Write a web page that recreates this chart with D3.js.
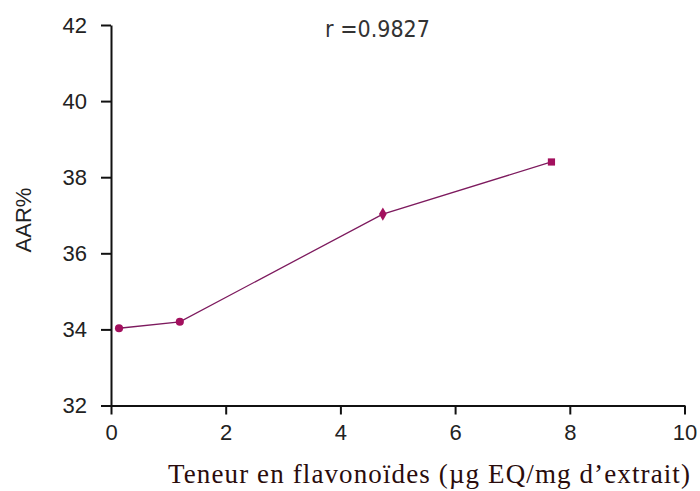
<!DOCTYPE html>
<html>
<head>
<meta charset="utf-8">
<script src="https://cdn.jsdelivr.net/npm/d3@7"></script>
<style>
  html, body { margin: 0; padding: 0; background: #fff; }
  svg { display: block; }
  .tick text { font-family: "Liberation Sans", Arial, sans-serif; font-size: 22px; fill: #222; }
</style>
</head>
<body>
<svg id="chart" width="700" height="491"></svg>
<script>
// Flavonoid content (µg EQ/mg extract) against antiradical activity (AAR%)
const flavonoids = [0.14, 1.20, 4.74, 7.68];
const aar = [34.03, 34.20, 37.03, 38.40];
const markerShapes = ["circle", "circle", "diamond", "square"];
const xTicks = [0, 2, 4, 6, 8, 10];
const yTicks = [32, 34, 36, 38, 40, 42];
const correlationLabel = "r =0.9827";
const xTitle = "Teneur en flavonoïdes (µg EQ/mg d\u2019extrait)";
const yTitle = "AAR%";

const width = 700, height = 491;
const margin = { top: 25, right: 15.5, bottom: 85.5, left: 111 };

const svg = d3.select("#chart");

const x = d3.scaleLinear().domain([0, 10]).range([margin.left, width - margin.right]);
const y = d3.scaleLinear().domain([32, 42]).range([height - margin.bottom, margin.top]);

// Axes: ticks cross the axis lines, Excel style
const xAxis = d3.axisBottom(x).tickValues(xTicks).tickSize(9).tickSizeOuter(0).tickPadding(10);
const yAxis = d3.axisLeft(y).tickValues(yTicks).tickSize(10).tickSizeOuter(0).tickPadding(14);

const gx = svg.append("g")
  .attr("transform", `translate(0,${y(32)})`)
  .call(xAxis);
const gy = svg.append("g")
  .attr("transform", `translate(${x(0)},0)`)
  .call(yAxis);

[gx, gy].forEach(g => {
  g.select(".domain").attr("stroke", "#111").attr("stroke-width", 2);
  g.selectAll(".tick line").attr("stroke", "#111").attr("stroke-width", 2);
});
gx.selectAll(".tick text").attr("dy", "0.71em");

// Data line
const line = d3.line().x((d, i) => x(flavonoids[i])).y(d => y(d));
svg.append("path")
  .datum(aar)
  .attr("fill", "none")
  .attr("stroke", "#7d1a5e")
  .attr("stroke-width", 1.3)
  .attr("d", line);

// Markers
const symbolType = { circle: d3.symbolCircle, diamond: d3.symbolDiamond, square: d3.symbolSquare };
svg.selectAll("path.marker")
  .data(aar)
  .join("path")
  .attr("class", "marker")
  .attr("transform", (d, i) => `translate(${x(flavonoids[i])},${y(d)})`)
  .attr("d", (d, i) => d3.symbol(symbolType[markerShapes[i]], 52)())
  .attr("fill", "#a3105e");

// Correlation coefficient
svg.append("text")
  .attr("x", 377.5)
  .attr("y", 36.5)
  .attr("text-anchor", "middle")
  .attr("font-family", "'DejaVu Sans Condensed', 'DejaVu Sans', sans-serif")
  .attr("font-size", 23)
  .attr("fill", "#333")
  .text(correlationLabel);

// Axis titles
svg.append("text")
  .attr("x", 168)
  .attr("y", 483)
  .attr("text-anchor", "start")
  .attr("textLength", 522)
  .attr("lengthAdjust", "spacing")
  .attr("font-family", "'Liberation Serif', 'Times New Roman', serif")
  .attr("font-size", 27)
  .attr("fill", "#2a0c0c")
  .text(xTitle);

svg.append("text")
  .attr("transform", `translate(31,220) rotate(-90)`)
  .attr("text-anchor", "middle")
  .attr("font-family", "'Liberation Sans', Arial, sans-serif")
  .attr("font-size", 22)
  .attr("fill", "#222")
  .text(yTitle);
</script>
</body>
</html>
